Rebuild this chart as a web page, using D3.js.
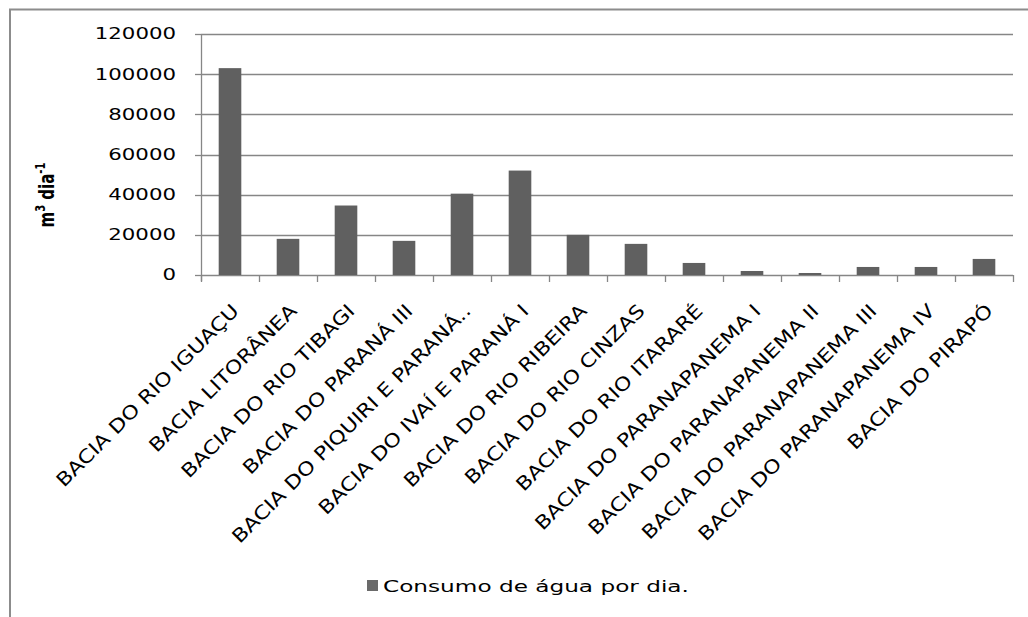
<!DOCTYPE html>
<html>
<head>
<meta charset="utf-8">
<script src="https://cdn.jsdelivr.net/npm/d3@7"></script>
<style>
    body { margin: 0; background: #fff; }
    text { font-family: "DejaVu Sans", Verdana, sans-serif; fill: #000; }
</style>
</head>
<body>
<div id="chart"></div>
<script>
// data
let categories = [
    "BACIA DO RIO IGUAÇU", "BACIA LITORÂNEA", "BACIA DO RIO TIBAGI", "BACIA DO PARANÁ III",
    "BACIA DO PIQUIRI E PARANÁ..", "BACIA DO IVAÍ E PARANÁ I", "BACIA DO RIO RIBEIRA",
    "BACIA DO RIO CINZAS", "BACIA DO RIO ITARARÉ", "BACIA DO PARANAPANEMA I",
    "BACIA DO PARANAPANEMA II", "BACIA DO PARANAPANEMA III", "BACIA DO PARANAPANEMA IV",
    "BACIA DO PIRAPÓ"
];
let values = [103000, 18000, 34600, 17000, 40500, 52000, 20000, 15500, 6000, 2000, 1000, 4000, 4000, 8000];
let y_ticks = [0, 20000, 40000, 60000, 80000, 100000, 120000];
let series_name = "Consumo de água por dia.";

let width = 1028;
let height = 617;
let plot_left = 201, plot_right = 1013, plot_top = 34, plot_bottom = 275;
let stretch = 1.42; // the original text is drawn wide
let bar_color = "#606060";
let line_color = "#868686";

let svg = d3.select("#chart").append("svg")
    .attr("width", width)
    .attr("height", height);

//frame
svg.append("path")
    .attr("d", "M10," + height + "V9.5H" + width)
    .attr("fill", "none")
    .attr("stroke", "#8c8c8c")
    .attr("stroke-width", 2);

//scales
let x = d3.scaleBand()
    .domain(categories)
    .range([plot_left, plot_right])
    .paddingInner(0.61)
    .paddingOuter(0.305);

let y = d3.scaleLinear()
    .domain([0, 120000])
    .range([plot_bottom, plot_top]);

let step = x.step();

//gridlines
svg.append("g").selectAll("line")
    .data(y_ticks)
    .join("line")
    .attr("x1", plot_left)
    .attr("x2", plot_right)
    .attr("y1", d => Math.round(y(d)) + 0.5)
    .attr("y2", d => Math.round(y(d)) + 0.5)
    .attr("stroke", line_color)
    .attr("stroke-width", 1.3);

//y axis line + ticks
svg.append("line")
    .attr("x1", plot_left + 0.5).attr("x2", plot_left + 0.5)
    .attr("y1", plot_top).attr("y2", plot_bottom + 6)
    .attr("stroke", line_color)
    .attr("stroke-width", 1.3);

svg.append("g").selectAll("line")
    .data(y_ticks)
    .join("line")
    .attr("x1", plot_left - 6)
    .attr("x2", plot_left)
    .attr("y1", d => Math.round(y(d)) + 0.5)
    .attr("y2", d => Math.round(y(d)) + 0.5)
    .attr("stroke", line_color)
    .attr("stroke-width", 1.3);

//x ticks at category boundaries
let bounds = d3.range(categories.length + 1);
svg.append("g").selectAll("line")
    .data(bounds)
    .join("line")
    .attr("x1", i => Math.round(plot_left + i * step) + 0.5)
    .attr("x2", i => Math.round(plot_left + i * step) + 0.5)
    .attr("y1", plot_bottom)
    .attr("y2", plot_bottom + 7)
    .attr("stroke", line_color)
    .attr("stroke-width", 1.3);

//bars
svg.append("g").selectAll("rect")
    .data(values)
    .join("rect")
    .attr("x", (d, i) => x(categories[i]))
    .attr("width", x.bandwidth())
    .attr("y", d => y(d))
    .attr("height", d => y(0) - y(d))
    .attr("fill", bar_color);

//y tick labels
svg.append("g").selectAll("text")
    .data(y_ticks)
    .join("text")
    .attr("transform", d => "translate(176," + y(d) + ") scale(" + stretch + ",1)")
    .attr("text-anchor", "end")
    .attr("dy", "0.36em")
    .style("font-size", "15px")
    .text(d => d);

//category labels, rotated (wide and a bit taller than the tick labels)
svg.append("g").selectAll("text")
    .data(categories)
    .join("text")
    .attr("transform", d => "translate(" + (x(d) + x.bandwidth() / 2 + 10) + "," + (plot_bottom + 37) + ") rotate(-45) scale(1.48,1.25)")
    .attr("text-anchor", "end")
    .style("font-size", "15px")
    .text(d => d);

//y axis title
let yt = svg.append("text")
    .attr("transform", "translate(54,195) scale(" + stretch + ",1) rotate(-90)")
    .attr("text-anchor", "middle")
    .style("font-size", "15px")
    .style("font-weight", "bold");
yt.append("tspan").text("m");
yt.append("tspan").attr("dy", -6).style("font-size", "10px").text("3");
yt.append("tspan").attr("dy", 6).text(" dia");
yt.append("tspan").attr("dy", -6).style("font-size", "10px").text("-1");

//legend
svg.append("rect")
    .attr("x", 367)
    .attr("y", 580)
    .attr("width", 11)
    .attr("height", 11)
    .attr("fill", "#6a6a6a");

svg.append("text")
    .attr("transform", "translate(383,592) scale(1.45,1)")
    .style("font-size", "16px")
    .text(series_name);
</script>
</body>
</html>
